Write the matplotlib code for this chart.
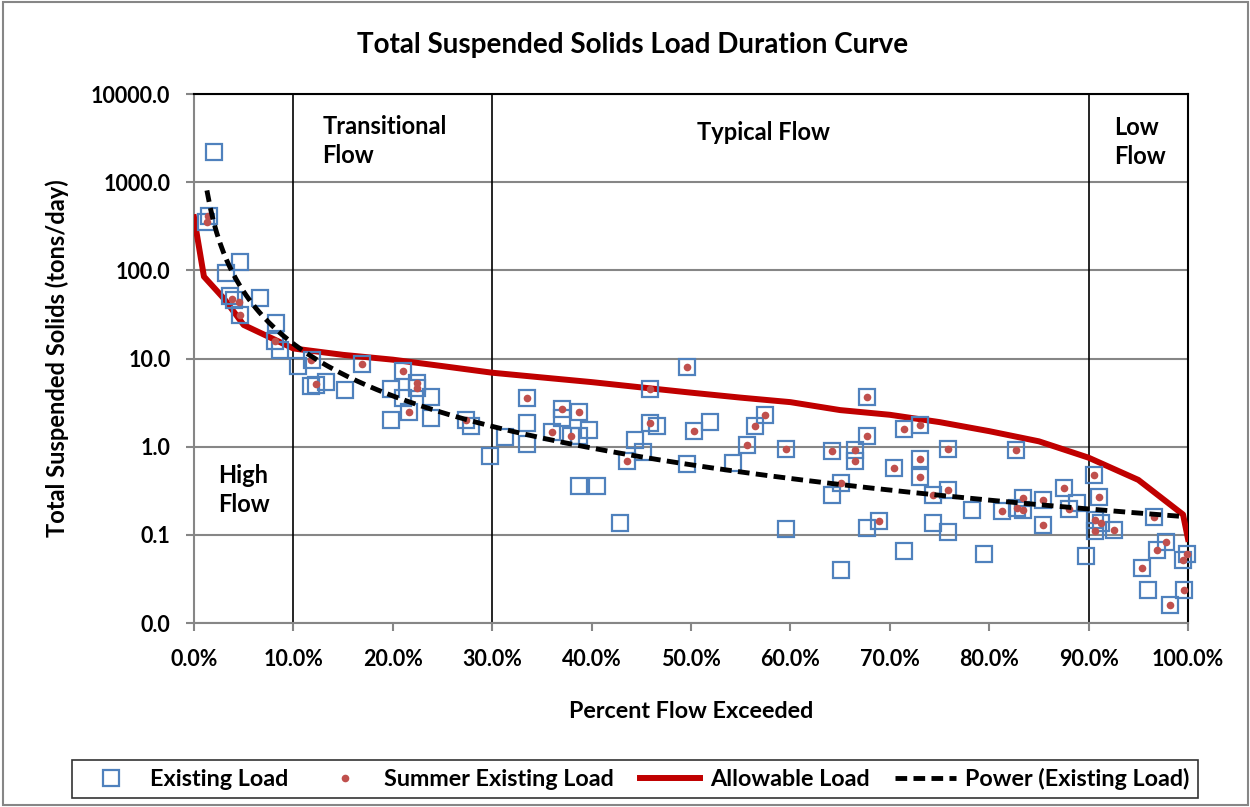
import matplotlib.pyplot as plt
import numpy as np
from matplotlib.ticker import FuncFormatter, FixedLocator
from matplotlib.patches import Rectangle

plt.rcParams['font.family'] = ['Lato', 'DejaVu Sans']
plt.rcParams['font.weight'] = 'bold'

# existing load samples (percent flow exceeded, tons/day)
exist_x = [1.2, 1.5, 2.0, 3.2, 3.6, 4.0, 4.6, 4.6, 6.6, 8.25, 8.1, 8.65,
           10.5, 11.9, 11.8, 12.3, 13.3, 15.2, 16.9, 19.8, 19.8, 21.0, 21.0, 21.6,
           22.4, 22.4, 23.8, 23.8, 27.4, 27.9, 29.8, 31.3, 33.5, 33.5, 33.5, 36.0,
           37.0, 37.0, 38.7, 37.9, 38.7, 39.7, 38.7, 40.5, 42.9, 43.6, 44.4, 45.2,
           45.9, 45.9, 46.6, 49.6, 49.6, 50.3, 51.9, 54.2, 55.6, 56.4, 57.4, 59.6,
           59.6, 64.2, 65.1, 64.2, 65.1, 66.5, 66.5, 67.7, 67.7, 67.7, 68.9, 70.4,
           71.4, 71.4, 73.0, 73.0, 73.0, 74.3, 74.3, 75.9, 75.9, 75.9, 78.3, 79.5,
           81.3, 82.7, 82.8, 83.4, 83.4, 85.4, 85.4, 87.5, 88.0, 88.8, 89.7, 90.5,
           91.0, 90.6, 91.2, 90.6, 92.6, 96.6, 95.4, 96.9, 97.8, 96.0, 98.2, 99.5,
           99.9, 99.6]
exist_y = [355, 415, 2200, 94, 51, 46, 123, 31, 49, 25, 16, 12.6,
           8.3, 9.5, 4.9, 5.0, 5.4, 4.4, 8.6, 4.5, 2.0, 7.3, 3.6, 2.5,
           5.3, 4.6, 3.7, 2.1, 2.0, 1.7, 0.78, 1.29, 3.6, 1.85, 1.08, 1.45,
           2.7, 2.1, 2.5, 1.33, 1.33, 1.56, 0.36, 0.36, 0.138, 0.69, 1.2, 0.86,
           4.5, 1.85, 1.73, 8.1, 0.64, 1.49, 1.9, 0.66, 1.05, 1.7, 2.3, 0.94,
           0.117, 0.90, 0.39, 0.28, 0.04, 0.92, 0.69, 3.7, 1.31, 0.12, 0.145, 0.57,
           1.59, 0.065, 1.74, 0.73, 0.45, 0.28, 0.136, 0.94, 0.325, 0.107, 0.19, 0.061,
           0.185, 0.92, 0.20, 0.26, 0.19, 0.25, 0.13, 0.34, 0.197, 0.23, 0.058, 0.48,
           0.27, 0.149, 0.138, 0.11, 0.112, 0.16, 0.042, 0.067, 0.084, 0.0235, 0.016, 0.052,
           0.061, 0.0235]

# summer samples
summer_x = [1.3, 1.45, 3.8, 4.5, 4.6, 8.1, 11.8, 12.3, 16.9, 21.0, 22.4, 22.4,
            21.6, 27.4, 33.5, 36.0, 37.0, 38.7, 37.9, 43.6, 45.9, 45.9, 49.6, 50.3,
            55.6, 56.4, 57.4, 59.6, 64.2, 65.1, 66.5, 66.5, 67.7, 67.7, 68.9, 70.4,
            71.4, 73.0, 73.0, 73.0, 74.3, 75.9, 75.9, 81.3, 82.7, 82.8, 83.4, 83.4,
            85.4, 85.4, 87.5, 88.0, 90.5, 91.0, 90.6, 91.2, 90.6, 92.6, 96.6, 95.4,
            96.9, 97.8, 98.2, 99.5, 99.9, 99.6]
summer_y = [355, 410, 47, 44, 31, 16, 9.5, 5.1, 8.6, 7.3, 5.3, 4.6,
            2.5, 2.0, 3.6, 1.45, 2.7, 2.5, 1.33, 0.69, 4.5, 1.85, 8.1, 1.49,
            1.05, 1.7, 2.3, 0.94, 0.90, 0.39, 0.92, 0.69, 3.7, 1.31, 0.145, 0.57,
            1.59, 1.74, 0.73, 0.45, 0.28, 0.94, 0.325, 0.185, 0.92, 0.20, 0.26, 0.19,
            0.25, 0.13, 0.34, 0.197, 0.48, 0.27, 0.149, 0.138, 0.11, 0.112, 0.16, 0.042,
            0.067, 0.084, 0.016, 0.052, 0.061, 0.0235]

# allowable load curve
allow_x = [0, 1, 3, 5, 10, 15, 20, 25, 30, 35, 40, 45, 50, 55, 60, 65, 70,
           75, 80, 85, 90, 95, 99.5, 100]
allow_y = [400, 85, 48, 24, 13, 11, 9.7, 8.2, 6.9, 6.1, 5.4, 4.7, 4.1, 3.6, 3.2,
           2.6, 2.3, 1.9, 1.5, 1.15, 0.75, 0.42, 0.17, 0.09]

xticks = np.arange(0, 101, 10)
yticks = [0.01, 0.1, 1, 10, 100, 1000, 10000]

# power trendline fitted to the existing load (like Excel)
ex = np.array(exist_x) / 100.0
ey = np.array(exist_y)
b, lna = np.polyfit(np.log(ex), np.log(ey), 1)
tx = np.linspace(0.013, 0.995, 300)
ty = np.exp(lna) * tx ** b

fig = plt.figure(figsize=(12.5, 8.07), dpi=100)
ax = fig.add_axes([0.1552, 0.228, 0.7952, 0.6555])

ax.set_yscale('log')
ax.set_xlim(0, 100)
ax.set_ylim(0.01, 10000)

ax.yaxis.set_major_locator(FixedLocator(yticks))
ax.yaxis.set_minor_locator(FixedLocator([]))
ax.yaxis.set_major_formatter(FuncFormatter(lambda v, p: "%.1f" % v))
ax.set_xticks(xticks)
ax.xaxis.set_major_formatter(FuncFormatter(lambda v, p: "%.1f%%" % v))

ax.grid(True, axis='y', color='#868686', lw=1.5)
ax.set_axisbelow(True)
for v in [10, 30, 90]:
    ax.axvline(v, color='black', lw=1.2, zorder=2)

ax.plot(exist_x, exist_y, 's', ms=12, mfc='none', mec='#4F81BD', mew=1.6,
        label='Existing Load', zorder=4, clip_on=False)
ax.plot(summer_x, summer_y, 'o', ms=5.5, color='#C0504D', mec='none',
        label='Summer Existing Load', zorder=5, clip_on=False)
ax.plot(allow_x, allow_y, color='#C00000', lw=4.3, label='Allowable Load', zorder=3)
ax.plot(tx * 100, ty, color='black', lw=3.5, ls=(0, (2.4, 1.3)),
        label='Power (Existing Load)', zorder=6)

for s in ['left', 'bottom']:
    ax.spines[s].set_color('#868686')
    ax.spines[s].set_linewidth(1.5)
for s in ['top', 'right']:
    ax.spines[s].set_color('black')
    ax.spines[s].set_linewidth(1.5)

ax.tick_params(axis='both', which='major', labelsize=15.5, length=6, width=1.5,
               color='#868686')
ax.tick_params(axis='y', pad=11)
ax.tick_params(axis='x', pad=13)
for lab in ax.get_xticklabels() + ax.get_yticklabels():
    lab.set_fontweight('bold')

ax.set_xlabel('Percent Flow Exceeded', fontsize=16.8, fontweight='bold', labelpad=22)
ax.set_ylabel('Total Suspended Solids (tons/day)', fontsize=17, fontweight='bold', labelpad=16)
fig.suptitle('Total Suspended Solids Load Duration Curve', x=0.506, y=0.944,
             va='center', fontsize=20, fontweight='bold')

ax.text(12.9, 2950, 'Transitional\nFlow', fontsize=17, fontweight='bold',
        va='center', linespacing=1.3)
ax.text(57.3, 3630, 'Typical Flow', fontsize=17, fontweight='bold', va='center', ha='center')
ax.text(92.55, 2880, 'Low\nFlow', fontsize=17, fontweight='bold', va='center', linespacing=1.3)
ax.text(2.4, 0.325, 'High\nFlow', fontsize=17, fontweight='bold', va='center', linespacing=1.3)

leg = fig.legend(loc='center', bbox_to_anchor=(0.508, 0.0347), ncol=4, frameon=True,
                 fancybox=False, edgecolor='black', fontsize=16.8, handlelength=2.6,
                 columnspacing=1.1, borderpad=0.35, handletextpad=0.4)
leg.get_frame().set_linewidth(1.2)
for t in leg.get_texts():
    t.set_fontweight('bold')

fig.patches.append(Rectangle((0.002, 0.002), 0.996, 0.996, transform=fig.transFigure,
                             fill=False, edgecolor='#868686', lw=1.5))

fig.savefig('out.png', dpi=100)
